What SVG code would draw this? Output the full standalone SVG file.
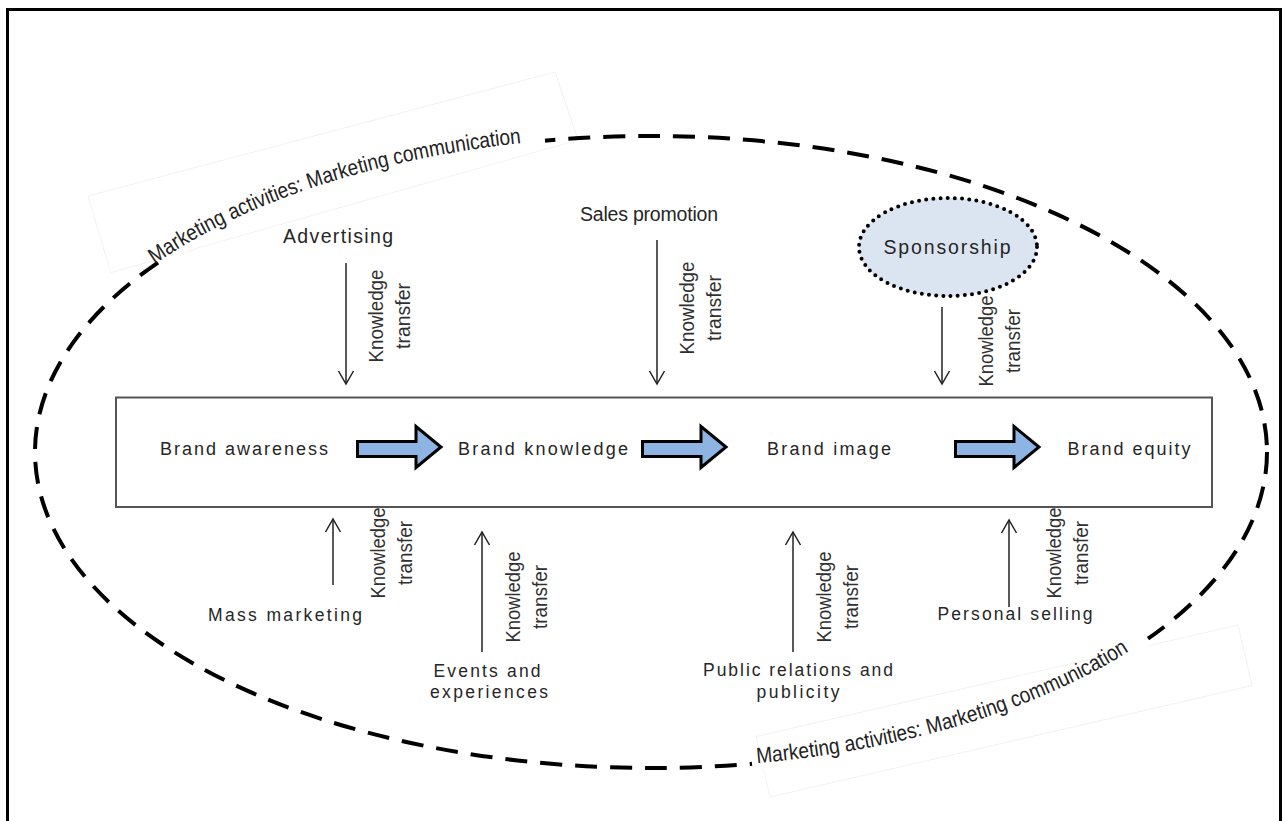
<svg xmlns="http://www.w3.org/2000/svg" width="1285" height="821" viewBox="0 0 1285 821">
  <defs>
    <style>
      .lbl { font-family: "Liberation Sans", Arial, sans-serif; fill: #262626; }
      .top { font-size: 19.5px; text-anchor: middle; }
      .brand { font-size: 18px; text-anchor: middle; }
      .bot { font-size: 17.5px; text-anchor: middle; }
      .kt { font-family: "Liberation Sans", Arial, sans-serif; font-size: 20px; fill: #303030; text-anchor: middle; }
      .arc { font-family: "Liberation Sans", Arial, sans-serif; font-size: 22px; fill: #222; }
      .thin { stroke: #222; stroke-width: 1.5; fill: none; marker-end: url(#vhead); }
      .block { fill: #8eb4e3; stroke: #000; stroke-width: 3; stroke-linejoin: miter; }
      .faint { fill: none; stroke: #f2f2f2; stroke-width: 1; }
    </style>
    <marker id="vhead" markerUnits="userSpaceOnUse" viewBox="0 0 16 18" markerWidth="16" markerHeight="18" refX="14" refY="9" orient="auto">
      <path d="M1,1.5 L14,9 L1,16.5" fill="none" stroke="#222" stroke-width="1.5"/>
    </marker>
    <path id="arcTop" d="M153,265.4 A616,316 0 0,1 545,140.7"/>
    <path id="arcBot" d="M752,763.7 A616,316 0 0,0 1148,638.7"/>
  </defs>

  <rect x="0" y="0" width="1285" height="821" fill="#fff"/>
  <!-- outer frame -->
  <rect x="7.5" y="9.5" width="1273" height="830" fill="none" stroke="#000" stroke-width="3"/>

  <!-- marketing communication boundary -->
  <g id="boundary">
    <polygon class="faint" points="88,196 555,72 578,140 110.7,272.7"/>
    <polygon class="faint" points="756,736.6 1238,625 1252,685.6 770,797"/>
    <ellipse cx="651" cy="452" rx="616" ry="316" fill="none" stroke="#000" stroke-width="4" stroke-dasharray="22 13"/>
    <path d="M160,261.2 A616,316 0 0,1 545,140.7" fill="none" stroke="#fff" stroke-width="12"/>
    <path d="M752,763.7 A616,316 0 0,0 1148,638.7" fill="none" stroke="#fff" stroke-width="12"/>
    <text class="arc"><textPath href="#arcTop" startOffset="2" textLength="390" lengthAdjust="spacingAndGlyphs">Marketing activities: Marketing communication</textPath></text>
    <text class="arc"><textPath href="#arcBot" startOffset="5" textLength="392" lengthAdjust="spacingAndGlyphs">Marketing activities: Marketing communication</textPath></text>
  </g>

  <!-- brand chain container -->
  <rect id="chain" x="116" y="397.5" width="1096" height="109.5" fill="#fff" stroke="#555" stroke-width="2"/>

  <!-- marketing activities -->
  <g id="advertising"><text class="lbl top" x="338" y="243" textLength="110" lengthAdjust="spacing">Advertising</text></g>
  <g id="sales-promotion"><text class="lbl top" x="649" y="221" textLength="138" lengthAdjust="spacing">Sales promotion</text></g>
  <g id="sponsorship">
    <ellipse cx="948" cy="247" rx="89" ry="49" fill="#dbe5f1" stroke="#000" stroke-width="4" stroke-dasharray="0 7.2" stroke-linecap="round"/>
    <text class="lbl top" x="947" y="254" textLength="127" lengthAdjust="spacing">Sponsorship</text>
  </g>
  <g id="mass-marketing"><text class="lbl bot" x="285" y="621" textLength="154" lengthAdjust="spacing">Mass marketing</text></g>
  <g id="events">
    <text class="lbl bot" x="487" y="677" textLength="107" lengthAdjust="spacing">Events and</text>
    <text class="lbl bot" x="489" y="698" textLength="118" lengthAdjust="spacing">experiences</text>
  </g>
  <g id="public-relations">
    <text class="lbl bot" x="798" y="676" textLength="190" lengthAdjust="spacing">Public relations and</text>
    <text class="lbl bot" x="798" y="698" textLength="83" lengthAdjust="spacing">publicity</text>
  </g>
  <g id="personal-selling"><text class="lbl bot" x="1015" y="620" textLength="155" lengthAdjust="spacing">Personal selling</text></g>

  <!-- brand stages -->
  <g id="brand-awareness"><text class="lbl brand" x="244" y="455" textLength="168" lengthAdjust="spacing">Brand awareness</text></g>
  <g id="brand-knowledge"><text class="lbl brand" x="543" y="455" textLength="170" lengthAdjust="spacing">Brand knowledge</text></g>
  <g id="brand-image"><text class="lbl brand" x="829" y="455" textLength="124" lengthAdjust="spacing">Brand image</text></g>
  <g id="brand-equity"><text class="lbl brand" x="1129" y="455" textLength="123" lengthAdjust="spacing">Brand equity</text></g>

  <!-- connectors -->
  <g id="connectors">
    <line class="thin" x1="346" y1="263" x2="346" y2="384"/>
    <line class="thin" x1="657" y1="240" x2="657" y2="384"/>
    <line class="thin" x1="942" y1="307" x2="942" y2="384"/>
    <line class="thin" x1="333" y1="585" x2="333" y2="519"/>
    <line class="thin" x1="482" y1="652" x2="482" y2="532"/>
    <line class="thin" x1="793" y1="652" x2="793" y2="532"/>
    <line class="thin" x1="1009" y1="607" x2="1009" y2="520"/>
    <path class="block" d="M357.5,441.5 H416 V426.5 L441,447 L416,467.5 V456.5 H357.5 Z"/>
    <path class="block" d="M642.5,441.5 H701 V426.5 L726,447 L701,467.5 V456.5 H642.5 Z"/>
    <path class="block" d="M955.5,441.5 H1014 V426.5 L1039,447 L1014,467.5 V456.5 H955.5 Z"/>
  </g>

  <!-- connector labels -->
  <g id="kt-labels">
    <text class="kt" transform="translate(383,316) rotate(-90)"><tspan x="0" y="0" textLength="93" lengthAdjust="spacingAndGlyphs">Knowledge</tspan><tspan x="0" y="27" textLength="66" lengthAdjust="spacingAndGlyphs">transfer</tspan></text>
    <text class="kt" transform="translate(694,308) rotate(-90)"><tspan x="0" y="0" textLength="93" lengthAdjust="spacingAndGlyphs">Knowledge</tspan><tspan x="0" y="27" textLength="66" lengthAdjust="spacingAndGlyphs">transfer</tspan></text>
    <text class="kt" transform="translate(993,341) rotate(-90)"><tspan x="0" y="0" textLength="91" lengthAdjust="spacingAndGlyphs">Knowledge</tspan><tspan x="0" y="27" textLength="64" lengthAdjust="spacingAndGlyphs">transfer</tspan></text>
    <text class="kt" transform="translate(385,553) rotate(-90)"><tspan x="0" y="0" textLength="91" lengthAdjust="spacingAndGlyphs">Knowledge</tspan><tspan x="0" y="27" textLength="64" lengthAdjust="spacingAndGlyphs">transfer</tspan></text>
    <text class="kt" transform="translate(520,597) rotate(-90)"><tspan x="0" y="0" textLength="91" lengthAdjust="spacingAndGlyphs">Knowledge</tspan><tspan x="0" y="27" textLength="64" lengthAdjust="spacingAndGlyphs">transfer</tspan></text>
    <text class="kt" transform="translate(831,597) rotate(-90)"><tspan x="0" y="0" textLength="91" lengthAdjust="spacingAndGlyphs">Knowledge</tspan><tspan x="0" y="27" textLength="64" lengthAdjust="spacingAndGlyphs">transfer</tspan></text>
    <text class="kt" transform="translate(1061,553) rotate(-90)"><tspan x="0" y="0" textLength="91" lengthAdjust="spacingAndGlyphs">Knowledge</tspan><tspan x="0" y="27" textLength="64" lengthAdjust="spacingAndGlyphs">transfer</tspan></text>
  </g>
</svg>
